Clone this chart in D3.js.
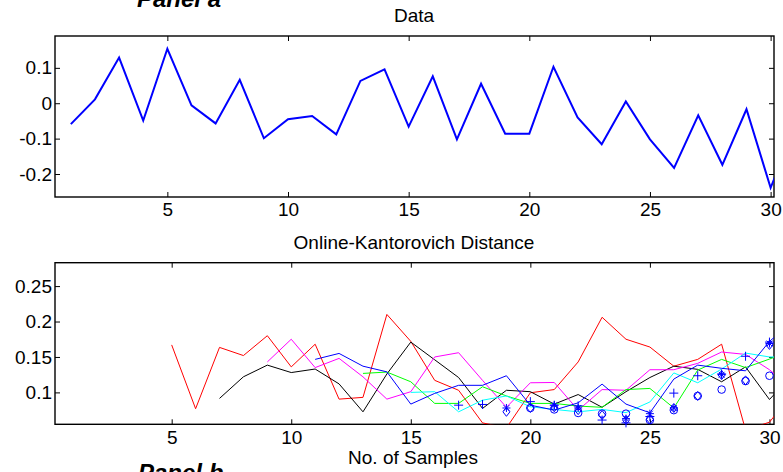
<!DOCTYPE html>
<html>
<head>
<meta charset="utf-8">
<script src="https://cdn.jsdelivr.net/npm/d3@7"></script>
<style>
  body { margin: 0; background: #fff; }
  text { font-family: "Liberation Sans", Arial, sans-serif; fill: #000; }
</style>
</head>
<body>
<svg id="chart" width="783" height="472"></svg>
<script>
// sample index (31 is just past the right edge and gets clipped)
const samples = [1, 2, 3, 4, 5, 6, 7, 8, 9, 10, 11, 12, 13, 14, 15, 16, 17, 18, 19, 20, 21, 22, 23, 24, 25, 26, 27, 28, 29, 30, 31];

const dataValues = [-0.059, 0.011, 0.129, -0.049, 0.154, -0.006, -0.057, 0.066, -0.099, -0.045, -0.036, -0.088, 0.063, 0.096, -0.066,
  0.076, -0.102, 0.055, -0.086, -0.086, 0.103, -0.040, -0.116, 0.005, -0.102, -0.183, -0.034, -0.174, -0.017, -0.239, -0.07];

// Online-Kantorovich distance curves, null = not yet started
const kdRed = [null, null, null, null, 0.167, 0.077, 0.1635, 0.152, 0.180, 0.136, 0.168, 0.0905, 0.093, 0.210, 0.172,
  0.117, 0.103, 0.057, 0.050, 0.0995, 0.104, 0.143, 0.206, 0.175, 0.164, 0.137, 0.1466, 0.168, 0.047, 0.058, 0.10];
const kdBlack = [null, null, null, null, null, null, 0.0915, 0.122, 0.1385, 0.128, 0.133, 0.112, 0.0726, 0.126, 0.171,
  0.146, 0.121, 0.0774, 0.103, 0.101, 0.0835, 0.097, 0.079, 0.101, 0.121, 0.137, 0.1325, 0.115, 0.136, 0.090, 0.126];
const kdMagenta = [null, null, null, null, null, null, null, null, 0.143, 0.175, 0.135, 0.148, 0.122, 0.0905, 0.101,
  0.150, 0.156, 0.117, 0.079, 0.1136, 0.114, 0.075, 0.104, 0.103, 0.132, 0.132, 0.141, 0.157, 0.1536, 0.132, 0.104];
const kdBlue = [null, null, null, null, null, null, null, null, null, null, 0.1466, 0.155, 0.137, 0.129, 0.0835,
  0.0986, 0.110, 0.110, 0.1235, 0.082, 0.075, 0.0853, 0.1117, 0.0835, 0.0712, 0.1188, 0.1385, 0.134, 0.1305, 0.172, 0.20];
const kdGreen = [null, null, null, null, null, null, null, null, null, null, null, null, 0.1268, 0.1287, 0.115,
  0.0845, 0.0845, 0.108, 0.095, 0.0845, 0.0845, 0.0807, 0.079, 0.104, 0.1056, 0.078, 0.1315, 0.1466, 0.135, 0.147, 0.16];
const kdCyan = [null, null, null, null, null, null, null, null, null, null, null, null, null, null, 0.100,
  0.101, 0.0726, 0.089, 0.095, 0.0797, 0.076, 0.0726, 0.076, 0.0715, 0.0865, 0.1275, 0.1136, 0.133, 0.1555, 0.150, 0.15];

// marker-only series (blue)
const kdPlus = [null, null, null, null, null, null, null, null, null, null, null, null, null, null, null,
  null, 0.082, 0.083, null, 0.087, 0.082, 0.081, 0.061, 0.057, 0.066, 0.099, 0.1235, 0.126, 0.151, 0.171, null];
const kdCircle = [null, null, null, null, null, null, null, null, null, null, null, null, null, null, null,
  null, null, null, null, 0.078, 0.076, 0.071, 0.070, 0.070, 0.061, 0.075, 0.095, 0.104, 0.116, 0.1235, null];
const kdDiamond = [null, null, null, null, null, null, null, null, null, null, null, null, null, null, null,
  null, null, null, 0.0726, 0.078, 0.079, 0.075, 0.068, 0.061, 0.062, 0.078, 0.095, 0.1245, 0.117, 0.167, null];
const kdStar = [null, null, null, null, null, null, null, null, null, null, null, null, null, null, null,
  null, null, null, 0.078, null, 0.082, 0.078, null, 0.063, 0.070, 0.078, null, 0.125, null, 0.169, null];

const xTicks = [5, 10, 15, 20, 25, 30];
const yTicksTop = [-0.2, -0.1, 0, 0.1];
const yTicksBottom = [0.1, 0.15, 0.2, 0.25];

const svg = d3.select("#chart");
svg.append("rect").attr("width", 783).attr("height", 472).attr("fill", "#fff");

const left = 55, right = 774;
const fmt = d => d === 0 ? "0" : String(d);

function panel(id, top, bottom, xDomain, yDomain, yTicks) {
  const x = d3.scaleLinear().domain(xDomain).range([left, right]);
  const y = d3.scaleLinear().domain(yDomain).range([bottom, top]);

  svg.append("clipPath").attr("id", id)
    .append("rect").attr("x", left).attr("y", top).attr("width", right - left).attr("height", bottom - top);

  const g = svg.append("g");
  g.append("g").attr("transform", `translate(0,${bottom})`)
    .call(d3.axisBottom(x).tickValues(xTicks).tickSize(-5).tickPadding(6).tickFormat(d3.format("d")));
  g.append("g").attr("transform", `translate(0,${top})`)
    .call(d3.axisTop(x).tickValues(xTicks).tickSize(-5).tickFormat(""));
  g.append("g").attr("transform", `translate(${left},0)`)
    .call(d3.axisLeft(y).tickValues(yTicks).tickSize(-5).tickPadding(3).tickFormat(fmt));
  g.append("g").attr("transform", `translate(${right},0)`)
    .call(d3.axisRight(y).tickValues(yTicks).tickSize(-5).tickFormat(""));
  g.selectAll(".domain").remove();
  g.selectAll(".tick line").attr("stroke", "#000").attr("stroke-width", 1);
  g.selectAll(".tick text").attr("font-size", 19).attr("font-family", "Liberation Sans, Arial, sans-serif");

  g.append("rect").attr("x", left).attr("y", top).attr("width", right - left).attr("height", bottom - top)
    .attr("fill", "none").attr("stroke", "#000").attr("stroke-width", 1.4);

  return { x, y, g };
}

// ---- Panel a : Data ----
const a = panel("clipA", 36, 197, [0.344, 30.14], [-0.265, 0.19], yTicksTop);

const lineA = d3.line().x((d, i) => a.x(samples[i])).y(d => a.y(d));
a.g.append("path").datum(dataValues)
  .attr("clip-path", "url(#clipA)")
  .attr("fill", "none").attr("stroke", "#0000ff").attr("stroke-width", 2)
  .attr("d", lineA);

svg.append("text").attr("x", 414).attr("y", 21.5).attr("text-anchor", "middle")
  .attr("font-size", 19).text("Data");

// ---- Panel b : Online-Kantorovich ----
const b = panel("clipB", 262.7, 424.3, [0.12, 30.19], [0.055, 0.283], yTicksBottom);

const lineB = d3.line().defined(d => d !== null).x((d, i) => b.x(samples[i])).y(d => b.y(d));
const curves = [
  { values: kdRed, color: "#ff0000" },
  { values: kdBlack, color: "#000000" },
  { values: kdMagenta, color: "#ff00ff" },
  { values: kdGreen, color: "#00ff00" },
  { values: kdCyan, color: "#00ffff" },
  { values: kdBlue, color: "#0000ff" }
];
b.g.selectAll(".kd").data(curves).enter().append("path")
  .attr("class", "kd")
  .attr("clip-path", "url(#clipB)")
  .attr("fill", "none").attr("stroke", d => d.color).attr("stroke-width", 1)
  .attr("d", d => lineB(d.values));

// marker shapes as stroked paths
const shapes = {
  plus: "M-4.5,0H4.5M0,-4.5V4.5",
  circle: "M3.8,0A3.8,3.8 0 1 1 -3.8,0A3.8,3.8 0 1 1 3.8,0Z",
  diamond: "M0,-4.5L3.5,0L0,4.5L-3.5,0Z",
  star: "M-4,0H4M0,-4V4M-2.9,-2.9L2.9,2.9M-2.9,2.9L2.9,-2.9"
};
const markerSets = [
  { values: kdPlus, shape: "plus" },
  { values: kdCircle, shape: "circle" },
  { values: kdDiamond, shape: "diamond" },
  { values: kdStar, shape: "star" }
];
markerSets.forEach(m => {
  const pts = m.values.map((v, i) => ({ n: samples[i], v })).filter(p => p.v !== null);
  b.g.selectAll(null).data(pts).enter().append("path")
    .attr("transform", p => `translate(${b.x(p.n)},${b.y(p.v)})`)
    .attr("d", shapes[m.shape])
    .attr("fill", "none").attr("stroke", "#0000ff").attr("stroke-width", 1);
});

svg.append("text").attr("x", 414).attr("y", 249).attr("text-anchor", "middle")
  .attr("font-size", 19).text("Online-Kantorovich Distance");
svg.append("text").attr("x", 413).attr("y", 464).attr("text-anchor", "middle")
  .attr("font-size", 19).text("No. of Samples");

// panel labels, cut by the page edges like the original
svg.append("text").attr("x", 137).attr("y", 7).attr("font-size", 24)
  .attr("font-weight", "bold").attr("font-style", "italic").text("Panel a");
svg.append("text").attr("x", 138).attr("y", 481).attr("font-size", 24)
  .attr("font-weight", "bold").attr("font-style", "italic").text("Panel b");
</script>
</body>
</html>
